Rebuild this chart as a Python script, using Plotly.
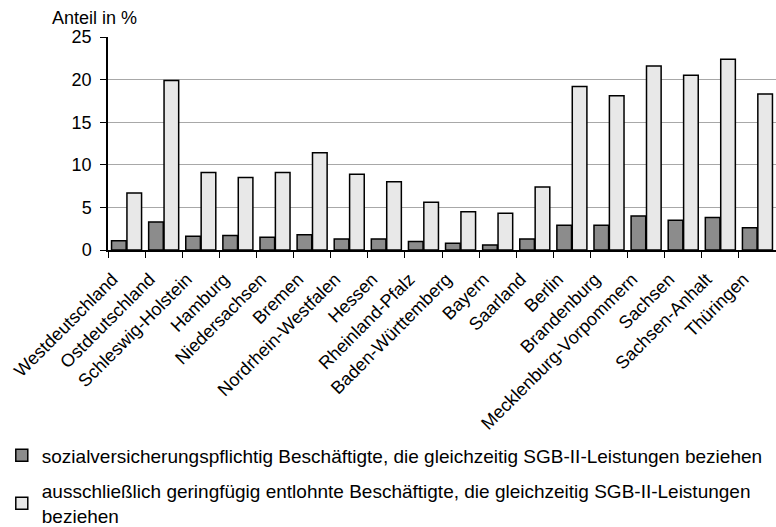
import plotly.graph_objects as go

categories = ["Westdeutschland", "Ostdeutschland", "Schleswig-Holstein", "Hamburg",
              "Niedersachsen", "Bremen", "Nordrhein-Westfalen", "Hessen",
              "Rheinland-Pfalz", "Baden-Württemberg", "Bayern", "Saarland", "Berlin",
              "Brandenburg", "Mecklenburg-Vorpommern", "Sachsen", "Sachsen-Anhalt", "Thüringen"]
svb_values = [1.1, 3.3, 1.6, 1.7, 1.5, 1.8, 1.3, 1.3, 1.0, 0.8, 0.6, 1.3, 2.9, 2.9, 4.0, 3.5, 3.8, 2.6]
gfb_values = [6.7, 19.9, 9.1, 8.5, 9.1, 11.4, 8.9, 8.0, 5.6, 4.5, 4.3, 7.4, 19.2, 18.1, 21.6, 20.5, 22.4, 18.3]
series_names = ["sozialversicherungspflichtig Beschäftigte, die gleichzeitig SGB-II-Leistungen beziehen",
                "ausschließlich geringfügig entlohnte Beschäftigte, die gleichzeitig SGB-II-Leistungen<br>beziehen"]
y_ticks = [0, 5, 10, 15, 20, 25]

FONT = "Liberation Sans, Arial, Helvetica, sans-serif"

fig = go.Figure()
fig.add_trace(go.Bar(x=categories, y=svb_values, name=series_names[0], legendgroup="a",
                     marker=dict(color="#8c8c8c", line=dict(color="#000000", width=1.5))))
fig.add_trace(go.Bar(x=categories, y=gfb_values, name=series_names[1], legendgroup="b",
                     marker=dict(color="#e8e8e8", line=dict(color="#000000", width=1.5))))

fig.update_layout(
    width=776, height=527,
    margin=dict(l=108, r=0, t=37, b=277, autoexpand=False),
    paper_bgcolor="white", plot_bgcolor="white",
    font=dict(family=FONT, size=18, color="#000000"),
    barmode="group", bargap=0.17, bargroupgap=0.05,
    showlegend=True,
    legend=dict(x=-0.159, y=-0.875, xanchor="left", yanchor="top",
                font=dict(size=19), tracegroupgap=8, itemwidth=30,
                bgcolor="rgba(0,0,0,0)"),
    annotations=[dict(text="Anteil in %", xref="paper", yref="paper", x=-0.087, y=1.089,
                      xanchor="left", yanchor="middle", showarrow=False,
                      font=dict(size=18))],
)
fig.update_xaxes(type="category", range=[-0.5, 17.5], tickangle=-45, automargin=False,
                 showline=True, linecolor="#000000", linewidth=1.5,
                 ticks="outside", tickson="boundaries", ticklen=6, tickcolor="#000000",
                 ticklabelshift=-14, ticklabelstandoff=10,
                 tickfont=dict(size=18), showgrid=False)
fig.update_yaxes(range=[0, 25], tickvals=y_ticks, showline=True, linecolor="#000000",
                 linewidth=1.5, ticks="outside", ticklen=6, tickcolor="#000000", automargin=False,
                 ticklabelstandoff=5,
                 showgrid=True, gridcolor="#a8a8a8", gridwidth=1.3, zeroline=False,
                 tickfont=dict(size=18))

# remove the browser's default 8px body margin so the 776x527 figure fills the window
fig.write_html("out.html", config={"displayModeBar": False},
               post_script="document.body.style.margin='0';")
